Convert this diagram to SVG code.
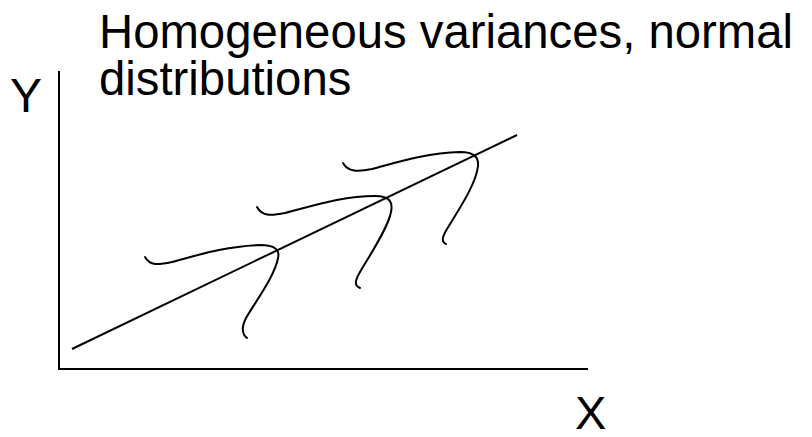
<svg xmlns="http://www.w3.org/2000/svg" width="812" height="437" viewBox="0 0 812 437">
<style>
.t{font-family:"Liberation Sans",Arial,sans-serif;fill:#000}
.ln{stroke:#000;stroke-width:2;fill:none}
.cv{stroke:#000;stroke-width:2;fill:none;stroke-linecap:round}
</style>
<rect width="812" height="437" fill="#fff"/>
<g id="title">
<text class="t" font-size="47.3"><tspan x="99" y="48">Homogeneous variances, normal</tspan><tspan x="99" y="95">distributions</tspan></text>
</g>
<g id="axis-y"><line class="ln" x1="59" y1="71" x2="59" y2="369"/></g>
<g id="axis-x"><line class="ln" x1="58" y1="369" x2="588" y2="369"/></g>
<g id="label-y"><text class="t" x="10" y="112" font-size="48">Y</text></g>
<g id="label-x"><text class="t" x="575" y="429" font-size="47">X</text></g>
<g id="regression"><line class="ln" x1="72" y1="349" x2="517" y2="135"/></g>
<g id="connectors">
<path id="dist1" class="cv" d="M145,257 C150,266 158,265 172,262 C195,256 225,246 260,245 C275,245 280,250 278,258 C275,275 258,298 246,318 C241,328 242,334 247,338"/>
<path id="dist2" class="cv" d="M257,207 C262,216 270,216 285,213 C310,207 340,196 375,196 C390,196 393,202 391,212 C388,228 370,255 360,272 C354,282 355,286 360,288"/>
<path id="dist3" class="cv" d="M343,163 C348,172 358,172 372,169 C395,163 425,153 460,152 C474,152 479,157 478,166 C476,185 457,212 447,229 C441,239 442,242 446,244"/>
</g>
</svg>
